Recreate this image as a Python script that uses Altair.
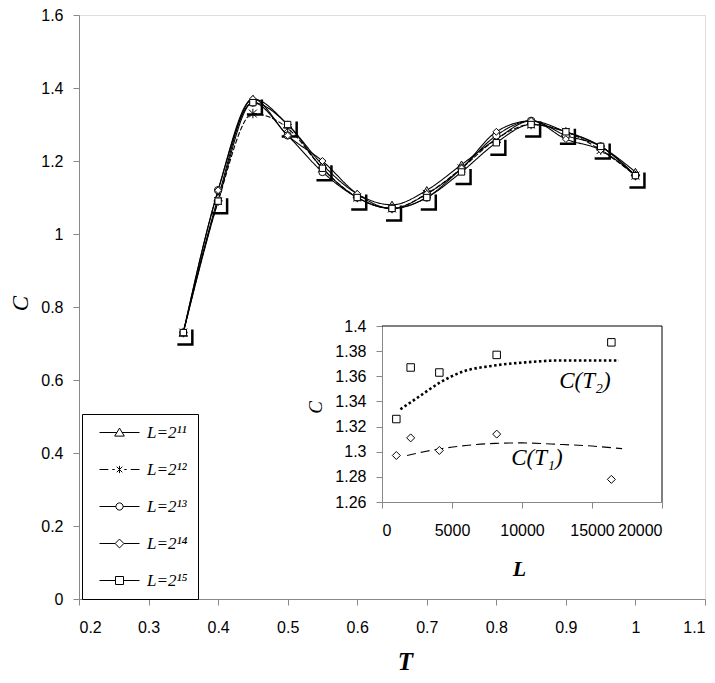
import altair as alt
import pandas as pd

# ---------------- main chart data ----------------
T_VALUES = [0.35, 0.40, 0.45, 0.50, 0.55, 0.60, 0.65, 0.70, 0.75, 0.80, 0.85, 0.90, 0.95, 1.00]
SERIES = ["L=2¹¹", "L=2¹²", "L=2¹³", "L=2¹⁴", "L=2¹⁵"]
C_L11 = [0.73, 1.10, 1.37, 1.30, 1.19, 1.11, 1.08, 1.12, 1.19, 1.26, 1.31, 1.28, 1.24, 1.17]
C_L12 = [0.73, 1.09, 1.33, 1.29, 1.18, 1.10, 1.07, 1.11, 1.18, 1.26, 1.30, 1.28, 1.23, 1.16]
C_L13 = [0.73, 1.12, 1.36, 1.27, 1.17, 1.10, 1.07, 1.10, 1.18, 1.27, 1.31, 1.27, 1.24, 1.16]
C_L14 = [0.73, 1.12, 1.37, 1.27, 1.20, 1.11, 1.07, 1.11, 1.18, 1.28, 1.31, 1.26, 1.23, 1.16]
C_L15 = [0.73, 1.09, 1.36, 1.30, 1.18, 1.10, 1.07, 1.10, 1.17, 1.25, 1.30, 1.28, 1.24, 1.16]
X_TICKS = [0.2, 0.3, 0.4, 0.5, 0.6, 0.7, 0.8, 0.9, 1.0, 1.1]
Y_TICKS = [0, 0.2, 0.4, 0.6, 0.8, 1.0, 1.2, 1.4, 1.6]

# ---------------- inset data ----------------
INSET_L = [1024, 2048, 4096, 8192, 16384]
INSET_C_T1 = [1.297, 1.311, 1.301, 1.314, 1.278]
INSET_C_T2 = [1.326, 1.367, 1.363, 1.377, 1.387]
FIT_T1_L = [1790, 3000, 4300, 6000, 8100, 10000, 12900, 15000, 17150]
FIT_T1_C = [1.297, 1.300, 1.3025, 1.305, 1.3066, 1.307, 1.3057, 1.3045, 1.3024]
FIT_T2_L = [1314, 2500, 4140, 5640, 8000, 10400, 12800, 14800, 16930]
FIT_T2_C = [1.3338, 1.3427, 1.355, 1.3632, 1.3685, 1.3712, 1.3726, 1.3726, 1.3726]
INSET_X_TICKS = [0, 5000, 10000, 15000, 20000]
INSET_Y_TICKS = [1.26, 1.28, 1.30, 1.32, 1.34, 1.36, 1.38, 1.40]
LABEL_TEXT = ["C(T₂)", "C(T₁)"]
LABEL_L = [14500, 11070]
LABEL_C = [1.3563, 1.295]

SERIF = "Liberation Serif"
SANS = "Liberation Sans"
NBSP = "\u00a0"

# ---------------- tables ----------------
rows = []
for name, vals in zip(SERIES, [C_L11, C_L12, C_L13, C_L14, C_L15]):
    for t, c in zip(T_VALUES, vals):
        rows.append({"T": t, "C": c, "series": name})
main_df = pd.DataFrame(rows)

inset_pts_t1 = pd.DataFrame({"L": INSET_L, "C": INSET_C_T1})
inset_pts_t2 = pd.DataFrame({"L": INSET_L, "C": INSET_C_T2})
fit_t1 = pd.DataFrame({"L": FIT_T1_L, "C": FIT_T1_C})
fit_t2 = pd.DataFrame({"L": FIT_T2_L, "C": FIT_T2_C})
labels_df = pd.DataFrame({"L": LABEL_L, "C": LABEL_C, "text": LABEL_TEXT})
box_top = pd.DataFrame({"L": [INSET_X_TICKS[0]], "L2": [INSET_X_TICKS[-1]], "C": [INSET_Y_TICKS[-1]]})
box_right = pd.DataFrame({"L": [INSET_X_TICKS[-1]], "C": [INSET_Y_TICKS[0]], "C2": [INSET_Y_TICKS[-1]]})

# ---------------- main encodings ----------------
x_main = alt.X(
    "T:Q",
    scale=alt.Scale(domain=[0.2, 1.1], nice=False, zero=False),
    axis=alt.Axis(
        values=X_TICKS, format="~g", title="T", grid=False,
        tickSize=6, labelPadding=14, labelFont=SANS, labelFontSize=16,
        titleFont=SERIF, titleFontStyle="italic", titleFontWeight="bold", titleFontSize=25,
        titleX=326, titleY=62, titleBaseline="middle", titleAlign="center",
    ),
)
y_main = alt.Y(
    "C:Q",
    scale=alt.Scale(domain=[0, 1.6], nice=False, zero=False),
    axis=alt.Axis(
        values=Y_TICKS, format="~g", title="C", grid=False,
        tickSize=6, labelPadding=10, labelFont=SANS, labelFontSize=16,
        titleFont=SERIF, titleFontStyle="italic", titleFontWeight="normal", titleFontSize=23,
        titleX=-59, titleY=288, titleBaseline="middle", titleAlign="center", titleAngle=-90,
    ),
)

MARKERS = [
    "triangle-up",
    "M-1,-1L1,1M-1,1L1,-1M0,-1.2L0,1.2",
    "circle",
    "diamond",
    "square",
]
MARKER_SIZES = [70, 40, 45, 80, 85]
LEGEND_PATHS = [
    "M-2.5,0L-0.32,0M0.32,0L2.5,0M0,-0.55L0.6,0.45L-0.6,0.45Z",
    "M-2.5,0L-1.4,0M-0.9,0L-0.6,0M0.6,0L0.9,0M1.4,0L2.5,0M-0.35,-0.35L0.35,0.35M-0.35,0.35L0.35,-0.35M0,-0.45L0,0.45",
    "M-2.5,0L-0.45,0M0.45,0L2.5,0M0.45,0A0.45,0.45,0,1,1,-0.45,0A0.45,0.45,0,1,1,0.45,0Z",
    "M-2.5,0L-0.55,0M0.55,0L2.5,0M0,-0.55L0.55,0L0,0.55L-0.55,0Z",
    "M-2.5,0L-0.5,0M0.5,0L2.5,0M-0.5,-0.5L0.5,-0.5L0.5,0.5L-0.5,0.5Z",
]
SHADOW_PATH = "M-1.2,2.4L1.8,2.4L1.8,-0.6"

base = alt.Chart(main_df)

shadow = base.transform_filter(alt.datum.series == SERIES[4]).mark_point(
    shape=SHADOW_PATH, size=100, stroke="black", strokeWidth=2.5, filled=False, opacity=1
).encode(x=x_main, y=y_main)

lines = base.mark_line(interpolate="monotone", color="black", strokeWidth=1.1).encode(
    x=x_main,
    y=y_main,
    detail="series:N",
    strokeDash=alt.StrokeDash(
        "series:N",
        scale=alt.Scale(domain=SERIES, range=[[1, 0], [5, 2], [1, 0], [1, 0], [1, 0]]),
        legend=None,
    ),
)

points = base.mark_point(filled=True, fill="white", stroke="black", strokeWidth=1, opacity=1).encode(
    x=x_main,
    y=y_main,
    shape=alt.Shape("series:N", scale=alt.Scale(domain=SERIES, range=MARKERS), legend=None),
    size=alt.Size("series:O", scale=alt.Scale(domain=SERIES, range=MARKER_SIZES), legend=None),
)

legend_layer = base.transform_filter("false").mark_point(
    filled=False, color="black", strokeWidth=1, size=256, opacity=1
).encode(
    x=x_main,
    y=y_main,
    shape=alt.Shape(
        "series:N",
        scale=alt.Scale(domain=SERIES, range=LEGEND_PATHS),
        legend=alt.Legend(
            title=None, orient="none", legendX=3, legendY=399,
            padding=10, rowPadding=19,
            strokeColor="black", fillColor="white",
            symbolSize=256, symbolOffset=19, labelOffset=19,
            symbolStrokeColor="black", symbolStrokeWidth=1,
            labelFont=SERIF, labelFontStyle="italic", labelFontSize=17, labelColor="black",
            labelLimit=200, labelExpr="datum.label + '" + NBSP * 5 + "'",
        ),
    ),
)

main_layer = alt.layer(shadow, lines, points, legend_layer).resolve_scale(
    shape="independent", size="independent"
)

# ---------------- inset encodings ----------------
x_in = alt.X(
    "L:Q",
    scale=alt.Scale(domain=[0, 20000], range=[303, 583], nice=False, zero=False),
    axis=alt.Axis(
        orient="bottom", offset=-97, values=INSET_X_TICKS, format="d", title="L", grid=False,
        tickSize=6, labelPadding=14, labelFont=SANS, labelFontSize=16,
        titleFont=SERIF, titleFontStyle="italic", titleFontWeight="bold", titleFontSize=22,
        titleX=440, titleY=66, titleBaseline="middle", titleAlign="center",
    ),
)
y_in = alt.Y(
    "C:Q",
    scale=alt.Scale(domain=[1.26, 1.40], range=[487, 311], nice=False, zero=False),
    axis=alt.Axis(
        orient="left", offset=-303, values=INSET_Y_TICKS, format="~g", title="C", grid=False,
        tickSize=6, labelPadding=10, labelFont=SANS, labelFontSize=16,
        titleFont=SERIF, titleFontStyle="italic", titleFontWeight="normal", titleFontSize=19,
        titleX=-67, titleY=392, titleBaseline="middle", titleAlign="center", titleAngle=-90,
    ),
)

in_top = alt.Chart(box_top).mark_rule(color="black", strokeWidth=1).encode(x=x_in, x2="L2:Q", y=y_in)
in_right = alt.Chart(box_right).mark_rule(color="black", strokeWidth=1).encode(x=x_in, y=y_in, y2="C2:Q")
in_fit1 = alt.Chart(fit_t1).mark_line(
    interpolate="monotone", color="black", strokeWidth=1.1, strokeDash=[9, 5]
).encode(x=x_in, y=y_in)
in_fit2 = alt.Chart(fit_t2).mark_line(
    interpolate="monotone", color="black", strokeWidth=2.6, strokeDash=[2.5, 2.5]
).encode(x=x_in, y=y_in)
in_sq = alt.Chart(inset_pts_t2).mark_point(
    shape="square", size=56, filled=True, fill="white", stroke="black", strokeWidth=1, opacity=1
).encode(x=x_in, y=y_in)
in_dm = alt.Chart(inset_pts_t1).mark_point(
    shape="diamond", size=64, filled=True, fill="white", stroke="black", strokeWidth=1, opacity=1
).encode(x=x_in, y=y_in)
in_text = alt.Chart(labels_df).mark_text(
    font=SERIF, fontStyle="italic", fontSize=23, color="black", align="center", baseline="middle"
).encode(x=x_in, y=y_in, text="text:N")

inset_layer = alt.layer(in_top, in_right, in_fit1, in_fit2, in_sq, in_dm, in_text)

chart = (
    alt.layer(main_layer, inset_layer)
    .resolve_scale(x="independent", y="independent", shape="independent", size="independent")
    .properties(
        width=626,
        height=584,
        autosize="none",
        padding={"left": 71, "top": 7, "right": 2, "bottom": 76},
    )
    .configure_view(stroke="black", strokeWidth=1.2)
    .configure_axis(
        domainColor="black", tickColor="black", labelColor="black", titleColor="black",
        domainWidth=1.2, tickWidth=1,
    )
    .configure_legend(strokeWidth=1.5)
    .configure(background="white")
)

chart.save("out.html", embed_options={"renderer": "svg", "actions": False})
